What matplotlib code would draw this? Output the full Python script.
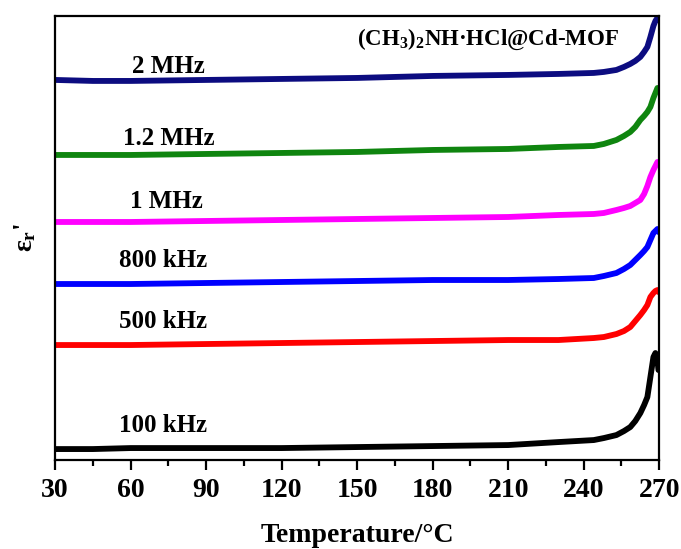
import matplotlib
matplotlib.use("Agg")
import matplotlib.pyplot as plt

plt.rcParams['font.family'] = ['Liberation Serif', 'DejaVu Serif']
plt.rcParams['font.weight'] = 'bold'
plt.rcParams['mathtext.fontset'] = 'custom'
plt.rcParams['mathtext.rm'] = 'Liberation Serif:bold'
plt.rcParams['mathtext.it'] = 'Liberation Serif:bold'
plt.rcParams['mathtext.bf'] = 'Liberation Serif:bold'

# temperature points (°C) shared by all curves
temp = [30, 45, 60, 90, 120, 150, 180, 210, 230, 244, 248, 253, 256, 258.5,
        260.5, 262.5, 264, 265.3, 266.5, 267.7, 268.5, 269.3, 269.7]

# stacked curves, arbitrary units (offset for clarity)
eps_2mhz = [380, 379, 379, 380, 381, 382, 384, 385, 386, 387, 388, 390, 393,
            396, 399, 403, 408, 413, 423, 434, 439, 442, 440]
eps_1_2mhz = [305, 305, 305, 306, 307, 308, 310, 311, 313, 314, 316, 320, 324,
              328, 333, 340, 344, 348, 353, 362, 367, 372, 370]
eps_1mhz = [238, 238, 238, 239, 240, 241, 242, 243, 245, 246, 247, 250, 252,
            254, 257, 260, 266, 274, 283, 290, 294, 298, 296]
eps_800khz = [176, 176, 176, 177, 178, 179, 180, 180, 181, 182, 184, 187, 191,
              195, 200, 205, 209, 213, 220, 227, 229, 231, 228]
eps_500khz = [115, 115, 115, 116, 117, 118, 119, 120, 120, 122, 123, 126, 129,
              133, 139, 145, 150, 155, 163, 167, 169, 170, 168]
eps_100khz = [11, 11, 12, 12, 12, 13, 14, 15, 18, 20, 22, 25, 29, 33, 39, 47,
              55, 63, 83, 103, 107, 100, 90]

series = [
    ('2 MHz', eps_2mhz, '#0c0c80', 75, 393),
    ('1.2 MHz', eps_1_2mhz, '#0f850f', 75, 321),
    ('1 MHz', eps_1mhz, '#ff00ff', 74, 258),
    ('800 kHz', eps_800khz, '#0000ff', 73, 199),
    ('500 kHz', eps_500khz, '#ff0000', 73, 139),
    ('100 kHz', eps_100khz, '#000000', 73, 35),
]

fig = plt.figure(figsize=(6.81, 5.49), dpi=100)
ax = fig.add_axes([0.081, 0.162, 0.887, 0.809])

for name, vals, col, lx, ly in series:
    ax.plot(temp, vals, color=col, lw=4.2, solid_capstyle='round',
            solid_joinstyle='round')
    ax.text(lx, ly, name, fontsize=18, fontweight='bold', ha='center', va='center')

ax.text(202, 421, r'(CH$_3$)$_2$NH·HCl@Cd-MOF', fontsize=16.5, fontweight='bold',
        ha='center', va='center')

ax.set_xlim(30, 270)
ax.set_ylim(0, 444)
ax.set_xticks(range(30, 271, 30))
ax.set_xticks(range(45, 270, 30), minor=True)
ax.set_yticks([])
ax.tick_params(axis='x', which='major', direction='out', length=7, width=1.6,
               labelsize=20, pad=6)
ax.tick_params(axis='x', which='minor', direction='out', length=4, width=1.6)
for sp in ax.spines.values():
    sp.set_linewidth(1.6)

ax.set_xlabel('Temperature/°C', fontsize=20, fontweight='bold', labelpad=14)
ax.set_ylabel(r"$\varepsilon_r$'", fontsize=20, fontweight='bold', labelpad=12)

fig.savefig('out.png', dpi=100)
